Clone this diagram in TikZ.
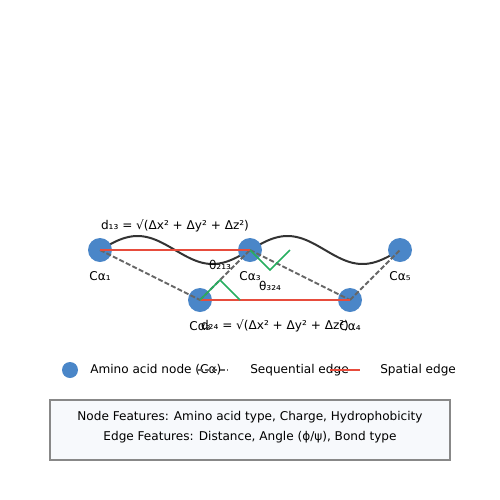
\documentclass[tikz,border=0pt]{standalone}
\usepackage{fontspec}
\setmainfont{DejaVu Sans}
\definecolor{nodeblue}{RGB}{74,134,200}
\definecolor{spred}{RGB}{231,76,60}
\definecolor{seqgray}{RGB}{102,102,102}
\definecolor{angreen}{RGB}{39,174,96}
\definecolor{curveblack}{RGB}{51,51,51}
\definecolor{boxfill}{RGB}{247,249,252}
\definecolor{boxborder}{RGB}{136,136,136}
\newdimen\pxu
\pxu=0.72pt
\tikzset{
  aanode/.style={circle, fill=nodeblue, inner sep=0pt, minimum size=24\pxu},
  lbl/.style={inner sep=0pt, font=\fontsize{8.7}{10}\selectfont},
  seqedge/.style={draw=seqgray, line width=1.44pt, dash pattern=on 3.6pt off 1.6pt},
  spedge/.style={draw=spred, line width=1.44pt},
  angmark/.style={draw=angreen, line width=1.1pt},
  backbone/.style={draw=curveblack, line width=1.44pt},
}
\begin{document}
\begin{tikzpicture}[x=0.72pt, y=-0.72pt]
\useasboundingbox (0,0) rectangle (500,500);
% backbone curve
\draw[backbone] plot[domain=100:400, samples=150, smooth] (\x, {250-14*sin(2.4*(\x-100))});
% nodes
\node[aanode] (c1) at (100,250) {};
\node[aanode] (c2) at (200,300) {};
\node[aanode] (c3) at (250,250) {};
\node[aanode] (c4) at (350,300) {};
\node[aanode] (c5) at (400,250) {};
% sequential edges
\draw[seqedge] (c1.center) -- (c2.center);
\draw[seqedge] (c2.center) -- (c3.center);
\draw[seqedge] (c3.center) -- (c4.center);
\draw[seqedge] (c4.center) -- (c5.center);
% spatial edges
\draw[spedge] (c1.center) -- (c3.center);
\draw[spedge] (c2.center) -- (c4.center);
% angle markers
\draw[angmark] (c2.center) -- ++(20,-20) -- ++(20,20);
\draw[angmark] (c3.center) -- ++(20,20) -- ++(20,-20);
% labels
\node[lbl] (l1) at (100,276) {Cα₁};
\node[lbl] (l3) at (250,276) {Cα₃};
\node[lbl] (l5) at (400,276) {Cα₅};
\node[lbl] (l2) at (200,326) {Cα₂};
\node[lbl] (l4) at (350,326) {Cα₄};
\node[lbl] (d13) at (175,226) {d₁₃ = √(Δx² + Δy² + Δz²)};
\node[lbl] (d24) at (275,326) {d₂₄ = √(Δx² + Δy² + Δz²)};
\node[lbl] (t213) at (220,265) {θ₂₁₃};
\node[lbl] (t324) at (270,286) {θ₃₂₄};
% legend
\node[circle, fill=nodeblue, inner sep=0pt, minimum size=16\pxu] (lgn) at (70,370) {};
\node[lbl, anchor=west] (lgt1) at (90,370) {Amino acid node (Cα)};
\coordinate (sqa) at (198,370);
\coordinate (sqb) at (228,370);
\draw[seqedge] (sqa) -- (sqb);
\node[lbl, anchor=west] (lgt2) at (250,370) {Sequential edge};
\coordinate (spa) at (330,370);
\coordinate (spb) at (360,370);
\draw[spedge] (spa) -- (spb);
\node[lbl, anchor=west] (lgt3) at (380,370) {Spatial edge};
% feature box
\node[draw=boxborder, fill=boxfill, line width=0.8pt, minimum width=400\pxu, minimum height=60\pxu, inner sep=0pt] (feat) at (250,430) {};
\node[lbl, anchor=base] (f1) at (250,420) {Node Features: Amino acid type, Charge, Hydrophobicity};
\node[lbl, anchor=base] (f2) at (250,440) {Edge Features: Distance, Angle (ϕ/ψ), Bond type};
\end{tikzpicture}
\end{document}
